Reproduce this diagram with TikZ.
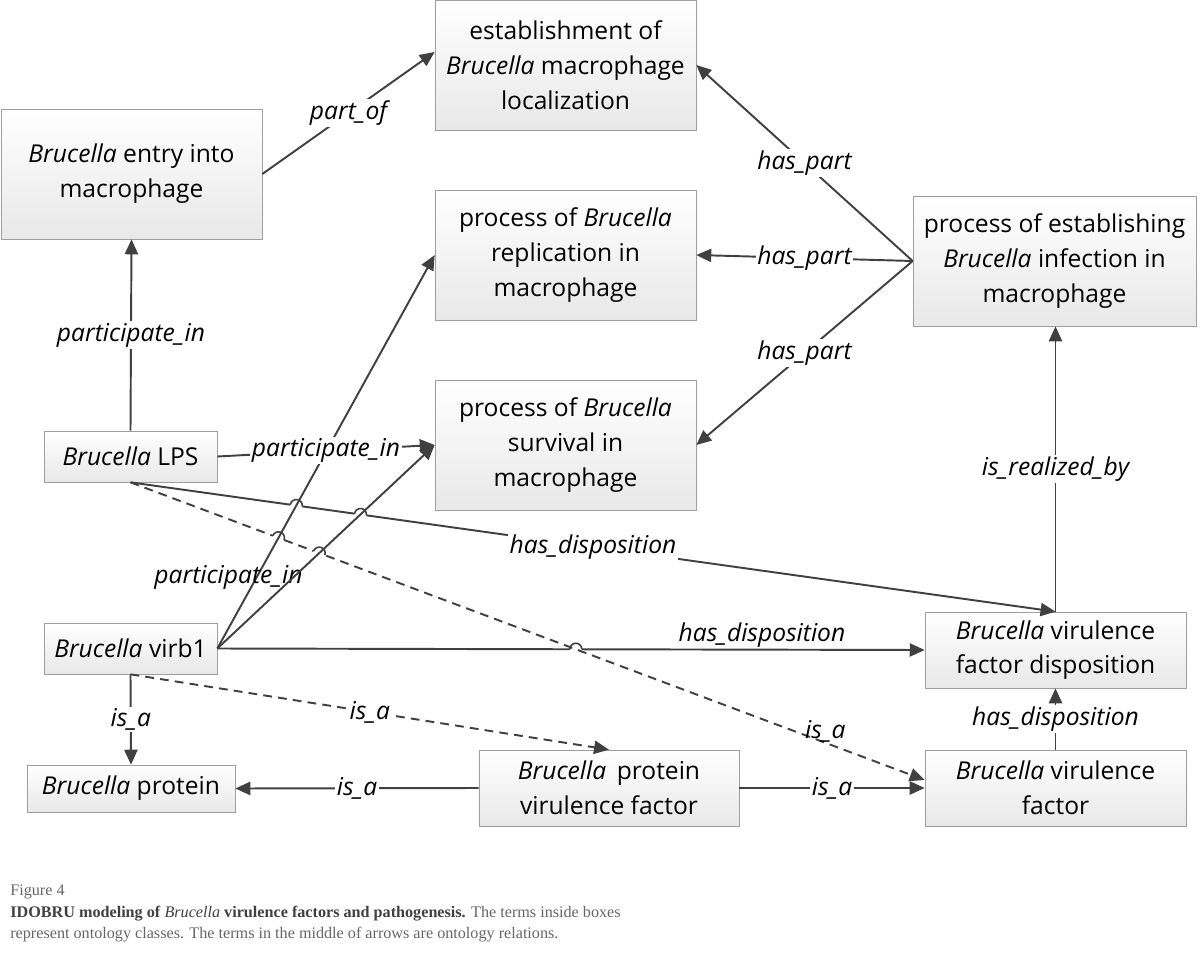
\documentclass[tikz,border=0pt]{standalone}
\usepackage{fontspec}
\setmainfont{Open Sans}
\newfontfamily\capfont{Liberation Serif}
\usetikzlibrary{arrows.meta, shadows, intersections, calc}

\begin{document}
\begin{tikzpicture}[x=0.02cm, y=-0.02cm,
    cls/.style={draw=gray!75, top color=white, bottom color=gray!18,
        drop shadow={shadow xshift=0.7pt, shadow yshift=-0.7pt, fill=gray!60},
        align=center, inner sep=0pt, font=\fontsize{14}{19.8}\selectfont},
    big/.style={cls, minimum width=5.22cm, minimum height=2.6cm},
    small/.style={cls, minimum width=3.46cm, minimum height=1.02cm},
    mid/.style={cls, minimum width=5.2cm, minimum height=1.52cm},
    wire/.style={draw=black!75, line width=1.1pt},
    rel/.style={wire, -{Triangle[length=8.5pt,width=7.5pt]}},
    isdash/.style={dash pattern=on 5pt off 3.5pt},
    lbl/.style={fill=white, inner sep=1pt, font=\fontsize{14}{17}\selectfont\itshape}]
    \useasboundingbox (0,0) rectangle (1201,970);
    % classes
    \node[big] (est) at (565.5,65) {establishment of\\\textit{Brucella} macrophage\\localization};
    \node[big] (entry) at (131.5,174) {\textit{Brucella} entry into\\macrophage};
    \node[big] (rep) at (565.5,255) {process of \textit{Brucella}\\replication in\\macrophage};
    \node[big] (surv) at (565.5,445) {process of \textit{Brucella}\\survival in\\macrophage};
    \node[big, minimum width=5.66cm] (inf) at (1054.5,261) {process of establishing\\\textit{Brucella} infection in\\macrophage};
    \node[small] (lps) at (130.5,456.5) {\textit{Brucella} LPS};
    \node[small] (virb) at (130.5,648.5) {\textit{Brucella} virb1};
    \node[cls, minimum width=4.16cm, minimum height=0.94cm] (prot) at (131,788.5) {\textit{Brucella} protein};
    \node[mid] (pvf) at (609,788) {\textit{Brucella}\, protein\\virulence factor};
    \node[mid, minimum width=5.22cm] (vfd) at (1055.5,650) {\textit{Brucella} virulence\\factor disposition};
    \node[mid, minimum width=5.22cm] (vf) at (1055.5,788) {\textit{Brucella} virulence\\factor};
    \coordinate (vfin) at ([yshift=0.16cm]vf.west);
    % crossings
    \path[name path=lpsdisp] (lps.south) -- (vfd.north);
    \path[name path=lpsisa] (lps.south) -- (vfin);
    \path[name path=virbrep] (virb.east) -- (rep.west);
    \path[name path=virbsurv] (virb.east) -- (surv.west);
    \path[name path=virbdisp] (virb.east) -- (vfd.west);
    \path[name intersections={of=lpsdisp and virbrep, by=h1}];
    \path[name intersections={of=lpsdisp and virbsurv, by=h2}];
    \path[name intersections={of=lpsisa and virbrep, by=h3}];
    \path[name intersections={of=lpsisa and virbsurv, by=h4}];
    \path[name intersections={of=virbdisp and lpsisa, by=h5}];
    % relations
    \draw[rel] (virb.east) -- (vfd.west) node[lbl, fill=none, above, pos=0.77] {has\_disposition};
    \draw[white, line width=2.5pt] ($(h5)!0.12cm!(virb.east)$) -- ($(h5)!0.12cm!(vfd.west)$);
    \draw[rel, isdash] (lps.south) -- (vfin) node[lbl, fill=none, inner sep=0pt, above, pos=0.875] {is\_a};
    \draw[rel] (lps.south) -- (vfd.north) node[lbl, midway] {has\_disposition};
    \foreach \h/\a/\b in {h1/lps.south/vfd.north, h2/lps.south/vfd.north, h3/lps.south/vfin, h4/lps.south/vfin}
        \draw[white, line width=2.5pt] ($(\h)!0.12cm!(\a)$) -- ($(\h)!0.12cm!(\b)$);
    \draw[rel] (virb.east) -- (rep.west) node[lbl, fill=none, pos=0.18, xshift=-0.56cm] {participate\_in};
    \draw[rel] (virb.east) -- (surv.west);
    % line jumps
    \foreach \h/\a/\b in {h1/lps.south/vfd.north, h2/lps.south/vfd.north, h3/lps.south/vfin, h4/lps.south/vfin, h5/virb.east/vfd.west}
        \draw[wire, line width=0.9pt] let \p1=($(\b)-(\a)$), \n1={atan2(\y1,\x1)} in
            ($(\h)!0.12cm!(\a)$) arc[start angle=\n1+180, end angle=\n1, radius=0.12cm];
    \draw[rel] (entry.east) -- ([yshift=0.26cm]est.west) node[lbl, midway] {part\_of};
    \draw[rel] (lps.north) -- (entry.south) node[lbl, midway] {participate\_in};
    \draw[rel] (lps.east) -- (surv.west) node[lbl, midway] {participate\_in};
    \draw[rel] (virb.south) -- (prot.north) node[lbl, midway] {is\_a};
    \draw[rel, isdash] (virb.south) -- (pvf.north) node[lbl, midway] {is\_a};
    \draw[rel] (pvf.west) -- (prot.east) node[lbl, midway] {is\_a};
    \draw[rel] (pvf.east) -- (vf.west) node[lbl, midway] {is\_a};
    \draw[rel] (vf.north) -- (vfd.south) node[lbl, midway] {has\_disposition};
    \draw[rel] (vfd.north) -- (vfd.north |- inf.south) node[lbl, midway] {is\_realized\_by};
    \foreach \part in {est, rep, surv}
        \draw[rel] (inf.west) -- (\part.east) node[lbl, midway] {has\_part};
    % caption
    \node[anchor=north west, align=left, inner sep=0pt, text=black!60,
        font=\capfont\fontsize{9.2}{12.5}\selectfont] (cap) at (10,884)
        {Figure 4\\\textcolor{black!75}{\textbf{IDOBRU modeling of \textmd{\textit{Brucella}} virulence factors and pathogenesis.}} The terms inside boxes\\represent ontology classes. The terms in the middle of arrows are ontology relations.};
\end{tikzpicture}
\end{document}
